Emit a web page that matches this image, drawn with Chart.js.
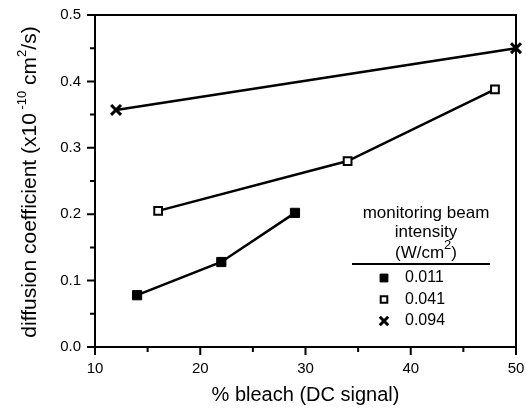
<!DOCTYPE html>
<html>
<head>
<meta charset="utf-8">
<script src="https://cdn.jsdelivr.net/npm/chart.js@4.4.1/dist/chart.umd.min.js"></script>
<style>
  html, body { margin: 0; padding: 0; background: #fff; }
  #wrap { width: 526px; height: 411px; }
</style>
</head>
<body>
<div id="wrap"><canvas id="diffChart" width="526" height="411"></canvas></div>
<script>
// series: % bleach vs diffusion coefficient
const seriesLabels = ["0.011", "0.041", "0.094"];
const bleach011 = [14, 22, 29];
const coeff011 = [0.078, 0.128, 0.202];
const bleach041 = [16, 34, 48];
const coeff041 = [0.205, 0.280, 0.388];
const bleach094 = [12, 50];
const coeff094 = [0.357, 0.450];

const legendTitle = ["monitoring beam", "intensity"];
const FONT = "'Liberation Sans', Arial, Helvetica, sans-serif";

function toPoints(xs, ys) {
  return xs.map(function (x, i) { return { x: x, y: ys[i] }; });
}

// draws text pieces in a row, some raised as superscripts; returns width
function drawRich(ctx, parts, x, y, measureOnly) {
  let w = 0;
  parts.forEach(function (p) {
    ctx.font = (p.sup ? "13px " : p.size + "px ") + FONT;
    if (!measureOnly) ctx.fillText(p.t, x + w, y - (p.sup ? 8 : 0));
    w += ctx.measureText(p.t).width;
  });
  return w;
}

// ticks, closed box, y title and the inset legend
const framePlugin = {
  id: "frame",
  afterDraw: function (chart) {
    const ctx = chart.ctx;
    const a = chart.chartArea;
    const xs = chart.scales.x;
    const ys = chart.scales.y;
    ctx.save();
    ctx.strokeStyle = "#000";
    ctx.fillStyle = "#000";
    ctx.lineWidth = 2;

    // box top and right
    ctx.beginPath();
    ctx.moveTo(a.left, a.top);
    ctx.lineTo(a.right, a.top);
    ctx.lineTo(a.right, a.bottom);
    ctx.stroke();

    // tick marks (major long, minor short)
    ctx.beginPath();
    xs.ticks.forEach(function (t, i) {
      const p = xs.getPixelForTick(i);
      const major = Math.abs(t.value % 10) < 1e-6;
      ctx.moveTo(p, a.bottom);
      ctx.lineTo(p, a.bottom + (major ? 8 : 5));
    });
    ys.ticks.forEach(function (t, i) {
      const p = ys.getPixelForTick(i);
      const major = Math.abs(t.value * 10 - Math.round(t.value * 10)) < 1e-6;
      ctx.moveTo(a.left, p);
      ctx.lineTo(a.left - (major ? 8 : 5), p);
    });
    ctx.stroke();

    // y axis title with real superscripts
    const yTitle = [
      { t: "diffusion coefficient (x10", size: 21 },
      { t: " -10", sup: true },
      { t: " cm", size: 21 },
      { t: "2", sup: true },
      { t: "/s)", size: 21 }
    ];
    ctx.save();
    ctx.translate(30, (a.top + a.bottom) / 2 + 1);
    ctx.rotate(-Math.PI / 2);
    ctx.textAlign = "left";
    ctx.textBaseline = "middle";
    const tw = drawRich(ctx, yTitle, 0, 0, true);
    drawRich(ctx, yTitle, -tw / 2, 0, false);
    ctx.restore();

    // legend
    const cx = a.left + 331;
    ctx.font = "17px " + FONT;
    ctx.textAlign = "center";
    ctx.textBaseline = "middle";
    legendTitle.forEach(function (line, i) {
      ctx.fillText(line, cx, a.top + 198 + i * 19.5);
    });
    const unit = [
      { t: "(W/cm", size: 17 },
      { t: "2", sup: true },
      { t: ")", size: 17 }
    ];
    ctx.textAlign = "left";
    const uw = drawRich(ctx, unit, 0, 0, true);
    drawRich(ctx, unit, cx - uw / 2, a.top + 238, false);

    ctx.beginPath();
    ctx.moveTo(a.left + 257, a.top + 249);
    ctx.lineTo(a.left + 395, a.top + 249);
    ctx.stroke();

    ctx.font = "16px " + FONT;
    chart.data.datasets.forEach(function (ds, i) {
      const y = a.top + 263 + i * 21.5;
      const mx = a.left + 289;
      ctx.save();
      ctx.fillStyle = ds.pointBackgroundColor;
      ctx.strokeStyle = ds.pointBorderColor;
      ctx.lineWidth = ds.pointBorderWidth;
      Chart.helpers.drawPoint(ctx, {
        pointStyle: ds.pointStyle,
        radius: ds.pointRadius * 0.85,
        rotation: 0,
        borderWidth: ds.pointBorderWidth
      }, mx, y);
      ctx.restore();
      ctx.fillText(ds.label, a.left + 310, y);
    });
    ctx.restore();
  }
};

const ctx = document.getElementById("diffChart").getContext("2d");

new Chart(ctx, {
  type: "line",
  data: {
    datasets: [
      {
        label: seriesLabels[0],
        data: toPoints(bleach011, coeff011),
        borderColor: "#000",
        borderWidth: 2.5,
        pointStyle: "rect",
        pointRadius: 6.5,
        pointBackgroundColor: "#000",
        pointBorderColor: "#000",
        pointBorderWidth: 1
      },
      {
        label: seriesLabels[1],
        data: toPoints(bleach041, coeff041),
        borderColor: "#000",
        borderWidth: 2.5,
        pointStyle: "rect",
        pointRadius: 5.5,
        pointBackgroundColor: "#fff",
        pointBorderColor: "#000",
        pointBorderWidth: 2
      },
      {
        label: seriesLabels[2],
        data: toPoints(bleach094, coeff094),
        borderColor: "#000",
        borderWidth: 2.5,
        pointStyle: "crossRot",
        pointRadius: 7,
        pointBackgroundColor: "#000",
        pointBorderColor: "#000",
        pointBorderWidth: 3
      }
    ]
  },
  options: {
    responsive: false,
    animation: false,
    clip: false,
    layout: { padding: { top: 15, right: 9, left: 0, bottom: 0 } },
    plugins: {
      legend: { display: false },
      tooltip: { enabled: false }
    },
    scales: {
      x: {
        type: "linear",
        min: 10,
        max: 50,
        afterFit: function (s) {
          s.height = 64;
          s.paddingLeft = 0;
          s.paddingRight = 0;
        },
        grid: { display: false },
        border: { display: true, color: "#000", width: 2 },
        ticks: {
          stepSize: 5,
          padding: 5,
          color: "#000",
          font: { family: FONT, size: 15 },
          maxRotation: 0,
          autoSkip: false,
          callback: function (v) { return v % 10 === 0 ? String(v) : ""; }
        },
        title: {
          display: true,
          text: "% bleach (DC signal)",
          color: "#000",
          font: { family: FONT, size: 20 },
          padding: { top: 0 }
        }
      },
      y: {
        type: "linear",
        min: 0,
        max: 0.5,
        afterFit: function (s) {
          s.width = 95;
          s.paddingTop = 0;
          s.paddingBottom = 0;
        },
        grid: { display: false },
        border: { display: true, color: "#000", width: 2 },
        ticks: {
          stepSize: 0.05,
          padding: 6,
          color: "#000",
          font: { family: FONT, size: 15 },
          autoSkip: false,
          callback: function (v) {
            return Math.abs(v * 10 - Math.round(v * 10)) < 1e-6 ? v.toFixed(1) : "";
          }
        }
      }
    }
  },
  plugins: [framePlugin]
});
</script>
</body>
</html>
